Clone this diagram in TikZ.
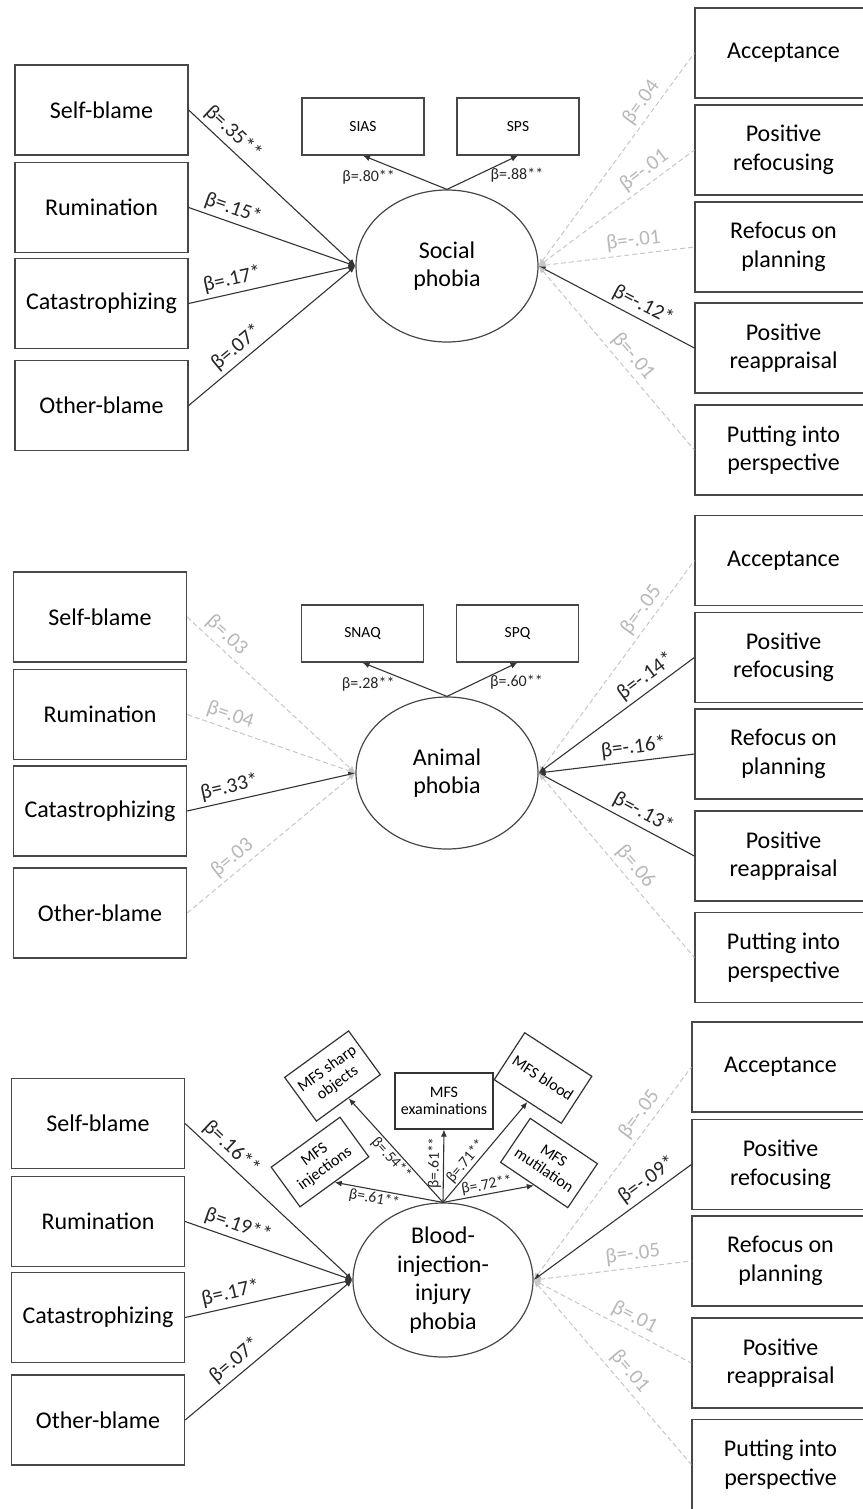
\documentclass[tikz,border=0pt]{standalone}
\usepackage{fontspec}
\setmainfont{Carlito}
\usetikzlibrary{arrows.meta,shapes.geometric,calc}
\begin{document}
\begin{tikzpicture}[x=1pt,y=-1pt,
  box/.style={draw=black!72, line width=1.3pt, minimum width=173pt, minimum height=90pt, inner sep=0pt, align=center, font=\fontsize{24}{28.5}\selectfont},
  rbox/.style={box, minimum width=177pt},
  ell/.style={ellipse, draw=black!72, line width=1.2pt, minimum width=182pt, minimum height=152pt, inner sep=0pt, align=center, font=\fontsize{24}{28.5}\selectfont},
  sbox/.style={draw=black!72, line width=1.2pt, minimum width=122pt, minimum height=57pt, inner sep=0pt, font=\fontsize{15.5}{18}\selectfont},
  mbox/.style={draw=black!80, line width=1.2pt, inner sep=0pt, align=center, font=\fontsize{16}{17.5}\selectfont},
  sig/.style={draw=black!80, line width=1.1pt},
  ns/.style={draw=black!22, line width=1pt, dash pattern=on 5pt off 3pt},
  ar/.style={-{Latex[length=7pt,width=6pt]}},
  al/.style={{Latex[length=7pt,width=6pt]}-},
  lab/.style={sloped, above=2pt, inner sep=2pt, text=black!85, font=\fontsize{21}{24}\selectfont},
  labg/.style={lab, text=black!28},
  slab/.style={inner sep=2pt, text=black!85, font=\fontsize{16}{18}\selectfont},
  mlab/.style={sloped, inner sep=1.5pt, text=black!85, font=\fontsize{15.5}{17}\selectfont}
]
\useasboundingbox (0,0) rectangle (862,1509);

% ===================== Panel 1: Social phobia =====================
\node[box] (sb1) at (101.5,110) {Self-blame};
\node[box] (ru1) at (101.5,207.5) {Rumination};
\node[box] (ca1) at (101.5,303.5) {Catastrophizing};
\node[box] (ob1) at (101.5,405.5) {Other-blame};
\node[rbox] (ac1) at (783.5,53) {Acceptance};
\node[rbox] (pr1) at (783.5,150) {Positive\\refocusing};
\node[rbox] (rp1) at (783.5,247) {Refocus on\\planning};
\node[rbox] (pa1) at (783.5,348) {Positive\\reappraisal};
\node[rbox] (pp1) at (783.5,450) {Putting into\\perspective};
\node[ell] (e1) at (447,266) {Social\\phobia};
\node[sbox] (sias) at (363,126.5) {SIAS};
\node[sbox] (sps) at (518,126.5) {SPS};

\draw[sig,ar] (e1.north) -- node[slab,pos=0.85,below=7pt,xshift=-7pt]{β=.80**} (sias.south);
\draw[sig,ar] (e1.north) -- node[slab,pos=0.9,below=7pt,xshift=6pt]{β=.88**} (sps.south);

\draw[sig,ar] (sb1.east) -- node[lab,pos=.21]{β=.35**} (e1.west);
\draw[sig,ar] (ru1.east) -- node[lab,pos=.24]{β=.15*} (e1.west);
\draw[sig,ar] (ca1.east) -- node[lab,pos=.28]{β=.17*} (e1.west);
\draw[sig,ar] (ob1.east) -- node[lab,pos=.34]{β=.07*} (e1.west);
\draw[ns,al] (e1.east) -- node[labg,pos=.73]{β=.04} (ac1.west);
\draw[ns,al] (e1.east) -- node[labg,pos=.73]{β=-.01} (pr1.west);
\draw[ns,al] (e1.east) -- node[labg,pos=.62]{β=-.01} (rp1.west);
\draw[sig,al] (e1.east) -- node[lab,pos=.63]{β=-.12*} (pa1.west);
\draw[ns,al] (e1.east) -- node[labg,pos=.54]{β=-.01} (pp1.west);

% ===================== Panel 2: Animal phobia =====================
\node[box] (sb2) at (100,617) {Self-blame};
\node[box] (ru2) at (100,714.5) {Rumination};
\node[box] (ca2) at (100,811) {Catastrophizing};
\node[box] (ob2) at (100,913) {Other-blame};
\node[rbox] (ac2) at (783.5,560.5) {Acceptance};
\node[rbox] (pr2) at (783.5,657.5) {Positive\\refocusing};
\node[rbox] (rp2) at (783.5,754) {Refocus on\\planning};
\node[rbox] (pa2) at (783.5,856) {Positive\\reappraisal};
\node[rbox] (pp2) at (783.5,957.5) {Putting into\\perspective};
\node[ell] (e2) at (447,773) {Animal\\phobia};
\node[sbox] (snaq) at (362.5,633.5) {SNAQ};
\node[sbox] (spq) at (517.5,633.5) {SPQ};

\draw[sig,ar] (e2.north) -- node[slab,pos=0.85,below=7pt,xshift=-7pt]{β=.28**} (snaq.south);
\draw[sig,ar] (e2.north) -- node[slab,pos=0.9,below=7pt,xshift=6pt]{β=.60**} (spq.south);

\draw[ns,ar] (sb2.east) -- node[labg,pos=.18]{β=.03} (e2.west);
\draw[ns,ar] (ru2.east) -- node[labg,pos=.23]{β=.04} (e2.west);
\draw[sig,ar] (ca2.east) -- node[lab,pos=.27]{β=.33*} (e2.west);
\draw[ns,ar] (ob2.east) -- node[labg,pos=.32]{β=.03} (e2.west);
\draw[ns,al] (e2.east) -- node[labg,pos=.73]{β=-.05} (ac2.west);
\draw[sig,al] (e2.east) -- node[lab,pos=.74]{β=-.14*} (pr2.west);
\draw[sig,al] (e2.east) -- node[lab,pos=.62]{β=-.16*} (rp2.west);
\draw[sig,al] (e2.east) -- node[lab,pos=.63]{β=-.13*} (pa2.west);
\draw[ns,al] (e2.east) -- node[labg,pos=.555]{β=.06} (pp2.west);

% ===================== Panel 3: Blood-injection-injury phobia =====================
\node[box] (sb3) at (98,1123.5) {Self-blame};
\node[box] (ru3) at (98,1221.5) {Rumination};
\node[box] (ca3) at (98,1317.5) {Catastrophizing};
\node[box] (ob3) at (98,1420) {Other-blame};
\node[rbox] (ac3) at (780.5,1067) {Acceptance};
\node[rbox] (pr3) at (780.5,1164.5) {Positive\\refocusing};
\node[rbox] (rp3) at (780.5,1261) {Refocus on\\planning};
\node[rbox] (pa3) at (780.5,1363) {Positive\\reappraisal};
\node[rbox] (pp3) at (780.5,1464.5) {Putting into\\perspective};
\node[ell, minimum width=180pt, minimum height=154pt] (e3) at (443,1280) {Blood-\\injection-\\injury\\phobia};

\node[mbox, minimum width=79pt, minimum height=54pt, rotate=36] (msh) at (332.5,1076) {MFS sharp\\objects};
\node[mbox, minimum width=85pt, minimum height=49pt, rotate=36] (minj) at (320,1162) {MFS\\injections};
\node[mbox, minimum width=98pt, minimum height=56pt] (mex) at (444,1101) {MFS\\examinations};
\node[mbox, minimum width=80pt, minimum height=56pt, rotate=-33] (mbl) at (543,1078) {MFS blood};
\node[mbox, minimum width=81pt, minimum height=53pt, rotate=-34] (mmu) at (549,1163) {MFS\\mutilation};

\draw[sig,ar] (e3.north) -- node[mlab,pos=.62,below]{β=.61**} (minj.south);
\draw[sig,ar] (e3.north) -- node[mlab,pos=.48,below]{β=.54**} (msh.south);
\draw[sig,ar] (e3.north) -- node[mlab,pos=.54,above]{β=.61**} (mex.south);
\draw[sig,ar] (e3.north) -- node[mlab,pos=.35,above]{β=.71**} (mbl.south);
\draw[sig,ar] (e3.north) -- node[mlab,pos=.5,above]{β=.72**} (mmu.south);

\draw[sig,ar] (sb3.east) -- node[lab,pos=.22]{β=.16**} (e3.west);
\draw[sig,ar] (ru3.east) -- node[lab,pos=.29]{β=.19**} (e3.west);
\draw[sig,ar] (ca3.east) -- node[lab,pos=.29]{β=.17*} (e3.west);
\draw[sig,ar] (ob3.east) -- node[lab,pos=.35]{β=.07*} (e3.west);
\draw[ns,al] (e3.east) -- node[labg,pos=.74]{β=-.05} (ac3.west);
\draw[sig,al] (e3.east) -- node[lab,pos=.77]{β=-.09*} (pr3.west);
\draw[ns,al] (e3.east) -- node[labg,pos=.64]{β=-.05} (rp3.west);
\draw[ns,al] (e3.east) -- node[labg,pos=.6]{β=.01} (pa3.west);
\draw[ns,al] (e3.east) -- node[labg,pos=.545]{β=.01} (pp3.west);
\end{tikzpicture}
\end{document}
